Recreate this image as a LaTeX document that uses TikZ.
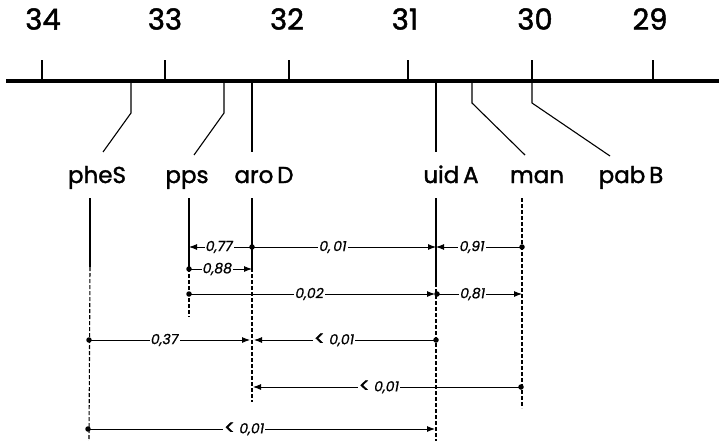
\documentclass[tikz,border=0pt]{standalone}
\usepackage{fontspec}
\setmainfont{Poppins}
\newfontfamily\heavyfont{Poppins}[FakeBold=1.6]
\newfontfamily\midfont{Poppins}[FakeBold=0.8]
\usetikzlibrary{arrows.meta}
\begin{document}
\begin{tikzpicture}[x=1pt,y=-1pt,
  axis/.style={line width=3.4pt},
  tickmark/.style={line width=1.8pt},
  lead/.style={line width=1.1pt},
  gene/.style={font=\heavyfont\fontsize{23}{25}\selectfont, anchor=base, inner sep=0pt},
  num/.style={font=\heavyfont\fontsize{29}{31}\selectfont, inner sep=0pt},
  solidv/.style={line width=1.1pt},
  dashv/.style={line width=1.1pt, dash pattern=on 4pt off 2pt},
  dist/.style={line width=0.9pt, -{Latex[length=8pt,width=6pt]}},
  val/.style={font=\midfont\itshape\fontsize{14}{15}\selectfont, fill=white, inner sep=1.2pt},
  dot/.style={circle, fill, inner sep=0pt, minimum size=5.5pt}
]
\useasboundingbox (0,0) rectangle (719,441);
\newcommand{\lessmark}{\raisebox{-1.2pt}{\heavyfont\upshape\fontsize{20}{14}\selectfont<}}
% axis
\coordinate (axL) at (6,81);
\coordinate (axR) at (719,81);
\draw[axis] (axL) -- (axR);
% ticks and numbers
\foreach \n/\tx/\lx in {34/42/43, 33/165/165, 32/289/287, 31/408/405, 30/532/535, 29/653/650}{
  \coordinate (t\n) at (\tx,81);
  \coordinate (tt\n) at (\tx,60);
  \draw[tickmark] (t\n) -- (tt\n);
  \node[num] (n\n) at (\lx,19) {\n};
}
% gene labels
\node[gene] (pheS) at (97,183) {pheS};
\node[gene] (pps)  at (187,183) {pps};
\node[gene] (aroD) at (264,183) {aro\,D};
\node[gene] (uidA) at (451,183) {uid\,A};
\node[gene] (man)  at (537,183) {man};
\node[gene] (pabB) at (631,183) {pab\,B};
% leads from axis to labels
\coordinate (pheSa) at (131,82); \coordinate (pheSk) at (131,113); \coordinate (pheSe) at (103,152);
\coordinate (ppsa) at (224,82);  \coordinate (ppsk) at (224,113);  \coordinate (ppse) at (194,155);
\coordinate (aroDa) at (252,82); \coordinate (aroDe) at (252,152);
\coordinate (uidAa) at (436,82); \coordinate (uidAe) at (436,152);
\coordinate (mana) at (472,82);  \coordinate (mank) at (472,103);  \coordinate (mane) at (525,155);
\coordinate (pabBa) at (532,82); \coordinate (pabBk) at (532,103); \coordinate (pabBe) at (610,156);
\draw[lead] (pheSa) -- (pheSk) -- (pheSe);
\draw[lead] (ppsa) -- (ppsk) -- (ppse);
\draw[lead] (aroDa) -- (aroDe);
\draw[lead] (uidAa) -- (uidAe);
\draw[lead] (mana) -- (mank) -- (mane);
\draw[lead] (pabBa) -- (pabBk) -- (pabBe);
% vertical columns below labels
\coordinate (c1a) at (90,198);  \coordinate (c1b) at (90,267);  \coordinate (c1c) at (89,441);
\coordinate (c2a) at (189,198); \coordinate (c2b) at (189,268); \coordinate (c2c) at (189,317);
\coordinate (c3a) at (252,198); \coordinate (c3b) at (252,268); \coordinate (c3c) at (252,402);
\coordinate (c4a) at (436,198); \coordinate (c4b) at (436,283); \coordinate (c4c) at (436,441);
\coordinate (c5a) at (522,198); \coordinate (c5c) at (522,408);
\draw[solidv] (c1a) -- (c1b); \draw[dashv] (c1b) -- (c1c);
\draw[solidv] (c2a) -- (c2b); \draw[dashv] (c2b) -- (c2c);
\draw[solidv] (c3a) -- (c3b); \draw[dashv] (c3b) -- (c3c);
\draw[solidv] (c4a) -- (c4b); \draw[dashv] (c4b) -- (c4c);
\draw[dashv] (c5a) -- (c5c);
% row 1
\node[dot] (r1aro) at (252,247) {};
\coordinate (r1pps) at (189,247);
\coordinate (r1uid) at (436,247);
\node[dot] (r1man) at (522,247) {};
\draw[dist] (r1aro.center) -- node[val, pos=0.52] {0,77} (r1pps);
\draw[dist] (r1aro.center) -- node[val, pos=0.44] {0,\,01} (r1uid);
\draw[dist] (r1man.center) -- node[val, pos=0.58] {0,91} (r1uid);
% row 2
\node[dot] (r2pps) at (189,269) {};
\coordinate (r2aro) at (252,269);
\draw[dist] (r2pps.center) -- node[val, pos=0.45] {0,88} (r2aro);
% row 3
\node[dot] (r3pps) at (189,294) {};
\node[dot] (r3uid) at (437,294) {};
\coordinate (r3uidt) at (435,294);
\coordinate (r3man) at (522,294);
\draw[dist] (r3pps.center) -- node[val, pos=0.49] {0,02} (r3uidt);
\draw[dist] (r3uid.center) -- node[val, pos=0.42] {0,81} (r3man);
% row 4
\node[dot] (r4phe) at (89,340) {};
\coordinate (r4arol) at (250,340);
\coordinate (r4aror) at (254,340);
\node[dot] (r4uid) at (436,340) {};
\draw[dist] (r4phe.center) -- node[val, pos=0.47] {0,37} (r4arol);
\draw[dist] (r4uid.center) -- node[val, pos=0.56] {\lessmark\ 0,01} (r4aror);
% row 5
\node[dot] (r5man) at (521,387) {};
\coordinate (r5aro) at (253,387);
\draw[dist] (r5man.center) -- node[val, pos=0.53] {\lessmark\ 0,01} (r5aro);
% row 6
\node[dot] (r6phe) at (88,429) {};
\coordinate (r6uid) at (435,429);
\draw[dist] (r6phe.center) -- node[val, pos=0.45] {\lessmark\ 0,01} (r6uid);
\end{tikzpicture}
\end{document}
